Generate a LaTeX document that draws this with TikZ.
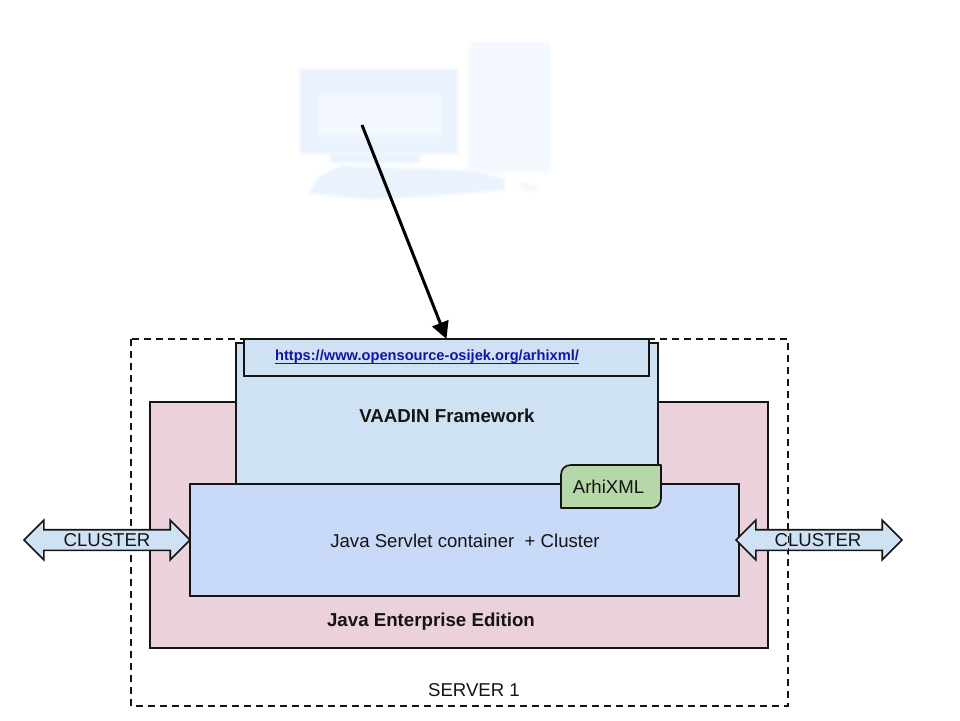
\documentclass[tikz,border=0pt]{standalone}
\usepackage{fontspec}
\setmainfont{Liberation Sans}
\usetikzlibrary{shapes.arrows,arrows.meta}
\definecolor{ink}{HTML}{141414}
\definecolor{pinkfill}{HTML}{EAD1DC}
\definecolor{vaadinfill}{HTML}{CFE2F3}
\definecolor{javafill}{HTML}{C9DAF8}
\definecolor{greenfill}{HTML}{B6D7A8}
\definecolor{linkblue}{HTML}{1414A8}
\definecolor{pcA}{HTML}{EAF3FD}
\definecolor{pcB}{HTML}{F3F9FE}
\definecolor{pcC}{HTML}{F1F8FE}
\newcommand{\softshape}[2]{%
  \foreach \w/\o in {7/0.18,5/0.25,3/0.35,1/0.5}{\path[draw=#1,draw opacity=\o,line width=\w pt,line join=round] #2;}%
  \path[fill=#1] #2;}
\tikzset{
  boxnode/.style={draw=ink,line width=1.7pt,rectangle,inner sep=0pt,outer sep=0pt},
  caption/.style={inner sep=0pt,outer sep=0pt,text=ink,font=\fontsize{18.6}{22}\selectfont},
  captionbold/.style={caption,font=\fontsize{18.7}{22}\selectfont\bfseries},
  clusterarrow/.style={double arrow,draw=ink,fill=vaadinfill,line width=1.7pt,
    double arrow tip angle=90,double arrow head extend=9.5pt,
    minimum height=166pt,minimum width=38pt,inner xsep=4pt,inner ysep=3pt,outer sep=0pt,
    text height=13pt,text depth=0pt,text=ink,font=\fontsize{18.6}{22}\selectfont},
  dashbox/.style={draw=ink,line width=1.6pt,dash pattern=on 7pt off 5pt},
}
\begin{document}
\begin{tikzpicture}[x=1pt,y=-1pt]
\useasboundingbox (0,0) rectangle (960,720);
% pale computer
\softshape{pcA}{(301,70) -- (456,70) -- (456,152) -- (301,152) -- cycle}
\softshape{pcB}{(320,96) -- (440,96) -- (440,134) -- (320,134) -- cycle}
\softshape{pcA}{(332,155) -- (418,155) -- (418,161) -- (332,161) -- cycle}
\softshape{pcA}{(342,167) -- (470,172) -- (503,180) -- (503,189) -- (440,194) -- (370,198) -- (311,192) -- (320,178) -- cycle}
\softshape{pcB}{(470,43) -- (548,43) -- (548,171) -- (470,171) -- cycle}
\softshape{pcC}{(520,184) -- (530,185) -- (537,188) -- (533,190) -- (525,189) -- cycle}
% containers
\node[boxnode,fill=pinkfill,minimum width=618pt,minimum height=246pt] (enterprise) at (459,525) {};
\node[boxnode,fill=vaadinfill,minimum width=422pt,minimum height=141pt] (vaadin) at (447,413.5) {};
\node[boxnode,fill=vaadinfill,minimum width=405pt,minimum height=37pt] (urlbox) at (446.5,357.5) {};
\node[boxnode,fill=javafill,minimum width=549pt,minimum height=112pt] (servlet) at (464.5,540) {};
\draw[draw=ink,fill=greenfill,line width=1.7pt,line join=round] (561,508) -- (561,475) .. controls (561,469) and (565,465) .. (571,465) -- (661,465) -- (661,498) .. controls (661,504) and (657,508) .. (651,508) -- cycle;
\node[caption] (arhi) at (608.5,487) {ArhiXML};
% dashed server frame: the left arrow covers it, the right one does not
\draw[dashbox] (131,339) rectangle (788,706);
\node[clusterarrow] (clusterL) at (107,540) {CLUSTER};
\node[clusterarrow] (clusterR) at (819,540) {\hspace*{-1pt}CLUSTER\hspace*{1pt}};
\begin{scope}
\clip (780,515) rectangle (796,565);
\draw[draw=ink,line width=1.1pt,dash pattern=on 7pt off 5pt] (131,339) rectangle (788.6,706);
\end{scope}
% texts
\node[inner sep=0pt,outer sep=0pt,text=linkblue,font=\fontsize{14.65}{17}\selectfont\bfseries] (urltext) at (427,357) {https://www.opensource-osijek.org/arhixml/};
\draw[linkblue,line width=1.1pt] ([yshift=0.5pt]urltext.south west) -- ([yshift=0.5pt]urltext.south east);
\node[captionbold] (vaadintext) at (447,415.5) {VAADIN Framework};
\node[caption] (servlettext) at (465,540.5) {Java Servlet container\ \ + Cluster};
\node[captionbold] (eetext) at (431,622) {Java Enterprise Edition};
\node[caption] (servertext) at (474,690.5) {SERVER 1};
% connector
\coordinate (pc) at (362,125);
\draw[line width=3pt,draw=black,-{Triangle[length=17pt,width=17pt]}] (pc) -- (urlbox.north);
\end{tikzpicture}
\end{document}
